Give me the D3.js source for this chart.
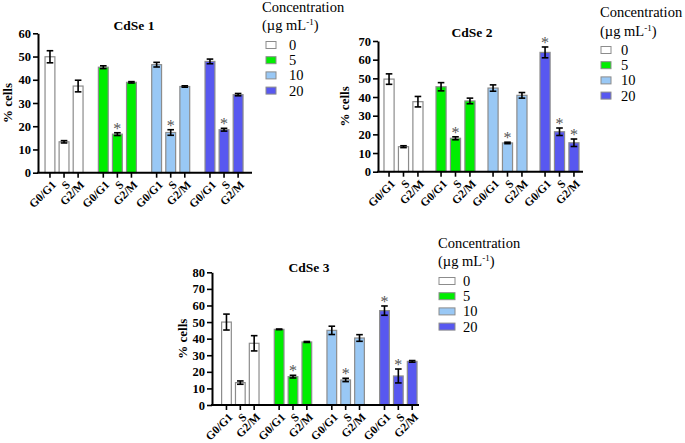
<!DOCTYPE html>
<html><head><meta charset="utf-8">
<script src="https://cdn.jsdelivr.net/npm/d3@7"></script>
<style>
html,body{margin:0;padding:0;background:#fff;}
svg{display:block;}
</style></head>
<body><svg id="chart" width="685" height="443" font-family="Liberation Serif"></svg>
<script>
// ---------- data ----------
const phases = ["G0/G1", "S", "G2/M"];
const concentrations = ["0", "5", "10", "20"];
const concColors = ["#ffffff", "#00ee00", "#99c8f5", "#5858f0"];
const legendTitle = "Concentration";

// values ordered: conc 0 (G0/G1,S,G2/M), conc 5 (...), conc 10 (...), conc 20 (...)
const cdse1Mean = [49.9, 13.3, 37.3, 45.4, 16.6, 38.9, 46.5, 17.3, 37.1, 47.9, 18.5, 33.6];
const cdse1Err  = [2.6, 0.5, 2.5, 0.6, 0.6, 0.3, 1.0, 1.2, 0.3, 1.0, 0.6, 0.5];
const cdse1Sig  = [0, 0, 0, 0, 1, 0, 0, 1, 0, 0, 1, 0];

const cdse2Mean = [49.6, 13.4, 37.5, 45.5, 17.9, 37.9, 44.8, 15.4, 40.9, 63.9, 21.4, 15.5];
const cdse2Err  = [2.8, 0.5, 2.8, 2.2, 0.8, 1.5, 1.7, 0.4, 1.5, 2.9, 2.0, 2.0];
const cdse2Sig  = [0, 0, 0, 0, 1, 0, 0, 1, 0, 1, 1, 1];

const cdse3Mean = [50.0, 13.5, 37.2, 45.6, 17.1, 38.0, 45.0, 15.1, 40.4, 56.9, 17.5, 26.3];
const cdse3Err  = [4.8, 1.0, 4.6, 0.2, 0.8, 0.3, 2.5, 1.0, 2.0, 2.8, 4.2, 0.5];
const cdse3Sig  = [0, 0, 0, 0, 1, 0, 0, 1, 0, 1, 1, 0];

const yTicks1 = [0, 10, 20, 30, 40, 50, 60];
const yTicks2 = [0, 10, 20, 30, 40, 50, 60, 70];
const yTicks3 = [0, 10, 20, 30, 40, 50, 60, 70, 80];

// ---------- layout ----------
const FONT = "Liberation Serif";
const panels = [
  {title: "CdSe 1", mean: cdse1Mean, err: cdse1Err, sig: cdse1Sig, ticks: yTicks1,
   x0: 38, x1: 252, yTop: 33.3, yBot: 172.7, pi: 0.2875, po: 0.15, align: 0.44,
   titleX: 134, titleY: 30, labX: 12,
   legend: {x: 262, y1: 12, y2: 30, rows: 45, box: 266, bw: 10, lab: 289}},
  {title: "CdSe 2", mean: cdse2Mean, err: cdse2Err, sig: cdse2Sig, ticks: yTicks2,
   x0: 378, x1: 583, yTop: 41, yBot: 171.7, pi: 0.25, po: 0.096, align: 0.6,
   titleX: 472, titleY: 36.5, labX: 349,
   legend: {x: 600, y1: 17, y2: 36, rows: 50, box: 601, bw: 10, lab: 621}},
  {title: "CdSe 3", mean: cdse3Mean, err: cdse3Err, sig: cdse3Sig, ticks: yTicks3,
   x0: 212, x1: 419, yTop: 272.3, yBot: 405, pi: 0.29, po: 0.11, align: 0.83,
   titleX: 309, titleY: 272, labX: 187,
   legend: {x: 438, y1: 248, y2: 266, rows: 281, box: 439, bw: 16, lab: 463}}
];

const svg = d3.select("#chart");
const strokeCol = "#8c8c8c";

panels.forEach(p => {
  const g = svg.append("g").attr("font-family", FONT);
  const y = d3.scaleLinear().domain([0, d3.max(p.ticks)]).range([p.yBot, p.yTop]);
  const xg = d3.scaleBand().domain(concentrations).range([p.x0, p.x1])
    .paddingInner(p.pi).paddingOuter(p.po).align(p.align);
  const xp = d3.scaleBand().domain(phases).range([0, xg.bandwidth()])
    .paddingInner(0.3).paddingOuter(0);

  const rows = [];
  concentrations.forEach((c, ci) => phases.forEach((ph, pi) => {
    const i = ci * 3 + pi;
    rows.push({c, ci, ph, mean: p.mean[i], err: p.err[i], sig: p.sig[i],
      x: xg(c) + xp(ph), cx: xg(c) + xp(ph) + xp.bandwidth() / 2});
  }));

  // bars
  g.selectAll("rect.bar").data(rows).join("rect").attr("class", "bar")
    .attr("x", d => d.x).attr("width", xp.bandwidth())
    .attr("y", d => y(d.mean)).attr("height", d => y(0) - y(d.mean))
    .attr("fill", d => concColors[d.ci]).attr("stroke", strokeCol).attr("stroke-width", 1.2);

  // error bars
  const eb = g.selectAll("g.eb").data(rows).join("g").attr("class", "eb")
    .attr("stroke", "#000").attr("stroke-width", 1.6);
  eb.append("line").attr("x1", d => d.cx).attr("x2", d => d.cx)
    .attr("y1", d => y(d.mean + d.err)).attr("y2", d => y(d.mean - d.err));
  eb.append("line").attr("x1", d => d.cx - 3.3).attr("x2", d => d.cx + 3.3)
    .attr("y1", d => y(d.mean + d.err)).attr("y2", d => y(d.mean + d.err));
  eb.append("line").attr("x1", d => d.cx - 3.3).attr("x2", d => d.cx + 3.3)
    .attr("y1", d => y(d.mean - d.err)).attr("y2", d => y(d.mean - d.err));

  // significance stars
  g.selectAll("text.star").data(rows.filter(d => d.sig)).join("text").attr("class", "star")
    .attr("x", d => d.cx).attr("y", d => y(d.mean + d.err) + 1)
    .attr("text-anchor", "middle").attr("font-size", 16).attr("fill", "#555")
    .text("*");

  // y axis
  const ya = g.append("g").attr("transform", `translate(${p.x0},0)`)
    .call(d3.axisLeft(y).tickValues(p.ticks).tickSize(5).tickSizeOuter(0).tickPadding(2).tickFormat(d3.format("d")));
  ya.attr("font-family", FONT);
  ya.select(".domain").attr("stroke-width", 2);
  ya.selectAll(".tick line").attr("stroke-width", 1.6);
  ya.selectAll(".tick text").attr("font-family", FONT).attr("font-weight", "bold")
    .attr("font-size", 12.5).attr("fill", "#000");

  // x axis
  g.append("line").attr("x1", p.x0 - 1).attr("x2", p.x1).attr("y1", y(0)).attr("y2", y(0))
    .attr("stroke", "#000").attr("stroke-width", 2);
  g.selectAll("line.xt").data(rows).join("line").attr("class", "xt")
    .attr("x1", d => d.cx).attr("x2", d => d.cx).attr("y1", y(0)).attr("y2", y(0) + 5)
    .attr("stroke", "#000").attr("stroke-width", 1.6);
  g.selectAll("text.xl").data(rows).join("text").attr("class", "xl")
    .attr("transform", d => `translate(${d.cx + 4},${y(0) + 10}) rotate(-45)`)
    .attr("text-anchor", "end").attr("dy", "0.35em")
    .attr("font-weight", "bold").attr("font-size", 11.5).text(d => d.ph);

  // y label
  g.append("text").attr("transform", `translate(${p.labX},${(p.yTop + p.yBot) / 2}) rotate(-90)`)
    .attr("text-anchor", "middle").attr("font-weight", "bold").attr("font-size", 13)
    .text("% cells");

  // title
  g.append("text").attr("x", p.titleX).attr("y", p.titleY).attr("text-anchor", "middle")
    .attr("font-weight", "bold").attr("font-size", 13.5).text(p.title);

  // legend
  const L = p.legend;
  const lg = svg.append("g").attr("font-size", 14.5).attr("font-family", FONT);
  lg.append("text").attr("x", L.x).attr("y", L.y1).text(legendTitle);
  const t2 = lg.append("text").attr("x", L.x).attr("y", L.y2);
  t2.append("tspan").text("(µg mL");
  t2.append("tspan").attr("font-size", 9).attr("dy", -5).text("-1");
  t2.append("tspan").attr("dy", 5).text(")");
  const items = lg.selectAll("g.li").data(concentrations).join("g").attr("class", "li")
    .attr("transform", (d, i) => `translate(0,${L.rows + i * 15.2})`);
  items.append("rect").attr("x", L.box).attr("y", -3.5).attr("width", L.bw).attr("height", 7)
    .attr("fill", (d, i) => concColors[i]).attr("stroke", strokeCol).attr("stroke-width", 1);
  items.append("text").attr("x", L.lab).attr("y", 5).text(d => d);
});
</script></body></html>
